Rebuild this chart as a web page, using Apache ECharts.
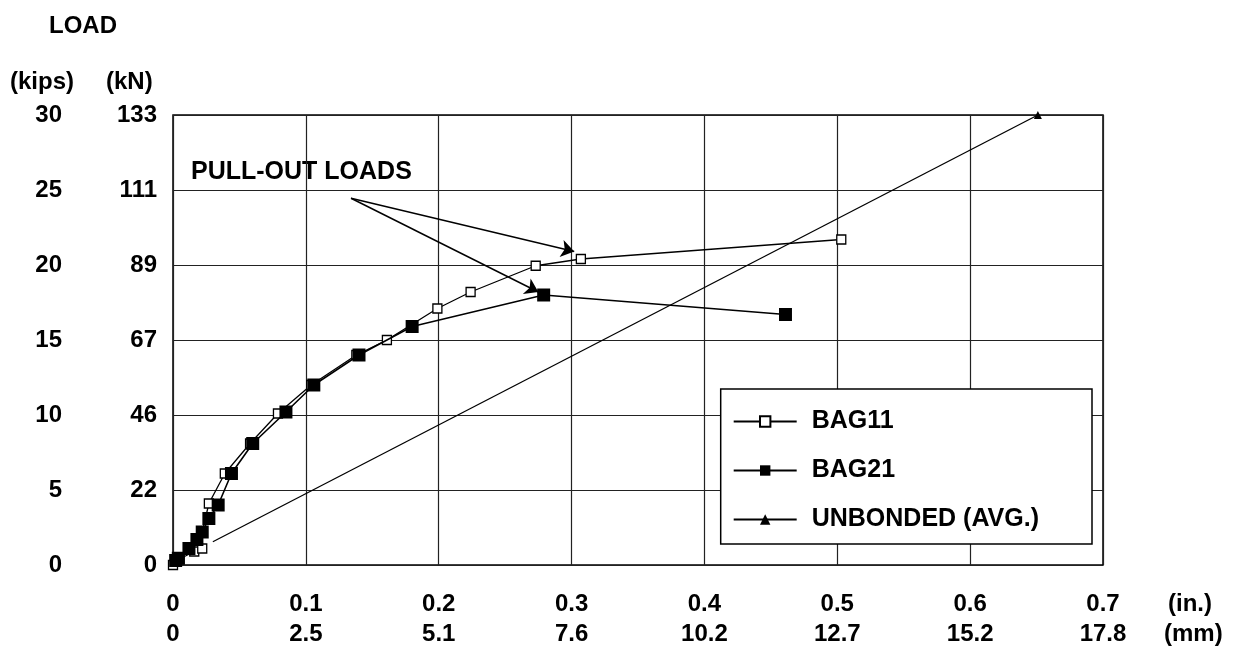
<!DOCTYPE html>
<html>
<head>
<meta charset="utf-8">
<script src="https://cdn.jsdelivr.net/npm/echarts@6/dist/echarts.min.js"></script>
<style>
  html, body { margin: 0; padding: 0; background: #fff; }
  #chart { width: 1234px; height: 650px; }
</style>
</head>
<body>
<div id="chart"></div>
<script>
// displacement (in.) vs load (kips)
const bag11 = [
  [0, 0], [0.005, 0.4], [0.016, 0.9], [0.022, 1.1], [0.022, 2.2],
  [0.027, 4.1], [0.039, 6.1], [0.058, 8.1], [0.079, 10.1], [0.104, 12.0],
  [0.138, 14.0], [0.161, 15.0], [0.199, 17.1], [0.224, 18.2],
  [0.273, 19.95], [0.307, 20.4], [0.503, 21.7]
];
const bag21 = [
  [0.002, 0.3], [0.004, 0.45], [0.012, 1.1], [0.018, 1.7], [0.022, 2.2],
  [0.027, 3.1], [0.034, 4.0], [0.044, 6.1], [0.060, 8.1], [0.085, 10.2],
  [0.106, 12.0], [0.140, 14.0], [0.180, 15.9], [0.279, 18.0], [0.461, 16.7]
];
const unbonded = [[0.030, 1.55], [0.651, 30]];

// secondary tick labels (SI units)
const kNLabels = ['0', '22', '46', '67', '89', '111', '133'];
const mmLabels = ['0', '2.5', '5.1', '7.6', '10.2', '12.7', '15.2', '17.8'];

// pull-out load arrows: [from, to]
const arrowFrom = [0.134, 24.45];
const arrowTo = [[0.302, 20.9], [0.275, 18.2]];

const FONT = 'Liberation Sans, Arial, sans-serif';
const chart = echarts.init(document.getElementById('chart'));

const txt = { color: '#000', fontFamily: FONT, fontSize: 24, fontWeight: 'bold' };
const gfont = 'bold 24px ' + FONT;

const option = {
  animation: false,
  backgroundColor: '#fff',
  grid: { left: 173, right: 131, top: 115, bottom: 85, show: true, borderColor: '#000', borderWidth: 1.5 },
  legend: {
    right: 142, top: 389,
    orient: 'vertical',
    padding: [20, 53, 12, 12],
    backgroundColor: '#fff',
    borderColor: '#000', borderWidth: 1.5,
    itemWidth: 63, itemHeight: 13, itemGap: 24,
    textStyle: { ...txt, fontSize: 25, padding: [0, 0, 0, 10] },
    data: ['BAG11', 'BAG21', 'UNBONDED (AVG.)']
  },
  xAxis: [
    {
      type: 'value', min: 0, max: 0.7, interval: 0.1,
      axisLine: { show: false }, axisTick: { show: false },
      splitLine: { lineStyle: { color: '#222', width: 1.2 } },
      axisLabel: { ...txt, margin: 27, formatter: v => v === 0 ? '0' : v.toFixed(1) }
    },
    {
      type: 'value', min: 0, max: 0.7, interval: 0.1, position: 'bottom',
      axisLine: { show: false }, axisTick: { show: false }, splitLine: { show: false },
      axisLabel: { ...txt, margin: 57, formatter: v => mmLabels[Math.round(v * 10)] }
    }
  ],
  yAxis: [
    {
      type: 'value', min: 0, max: 30, interval: 5,
      axisLine: { show: false }, axisTick: { show: false },
      splitLine: { lineStyle: { color: '#222', width: 1.2 } },
      axisLabel: { ...txt, margin: 16, formatter: v => kNLabels[v / 5] }
    },
    {
      type: 'value', min: 0, max: 30, interval: 5, position: 'left', offset: 95,
      axisLine: { show: false }, axisTick: { show: false }, splitLine: { show: false },
      axisLabel: { ...txt, margin: 16 }
    }
  ],
  series: [
    {
      name: 'BAG11', type: 'line', data: bag11,
      symbol: 'rect', symbolSize: 9,
      itemStyle: { color: '#fff', borderColor: '#000', borderWidth: 1.3 },
      lineStyle: { color: '#000', width: 1.3 },
      z: 3,
      markLine: {
        silent: true, symbol: ['none', 'arrow'], symbolSize: 13,
        label: { show: false },
        itemStyle: { color: '#000' },
        lineStyle: { color: '#000', width: 1.4, type: 'solid' },
        data: arrowTo.map(p => [{ coord: arrowFrom }, { coord: p }])
      }
    },
    {
      name: 'BAG21', type: 'line', data: bag21,
      symbol: 'rect', symbolSize: 13,
      itemStyle: { color: '#000' },
      lineStyle: { color: '#000', width: 1.6 },
      z: 4
    },
    {
      name: 'UNBONDED (AVG.)', type: 'line',
      // only the last point carries a marker in the original
      data: unbonded.map((p, i) => i === unbonded.length - 1 ? p : { value: p, symbol: 'none' }),
      symbol: 'triangle', symbolSize: 8,
      itemStyle: { color: '#000' },
      lineStyle: { color: '#000', width: 1.3 },
      z: 2
    }
  ],
  graphic: [
    { type: 'text', left: 49, top: 14, style: { text: 'LOAD', fill: '#000', font: gfont } },
    { type: 'text', left: 10, top: 70, style: { text: '(kips)', fill: '#000', font: gfont } },
    { type: 'text', left: 106, top: 70, style: { text: '(kN)', fill: '#000', font: gfont } },
    { type: 'text', left: 191, top: 160, style: { text: 'PULL-OUT LOADS', fill: '#000', font: 'bold 25px ' + FONT } },
    { type: 'text', left: 1168, top: 592, style: { text: '(in.)', fill: '#000', font: gfont } },
    { type: 'text', left: 1164, top: 622, style: { text: '(mm)', fill: '#000', font: gfont } }
  ]
};

chart.setOption(option);
</script>
</body>
</html>
